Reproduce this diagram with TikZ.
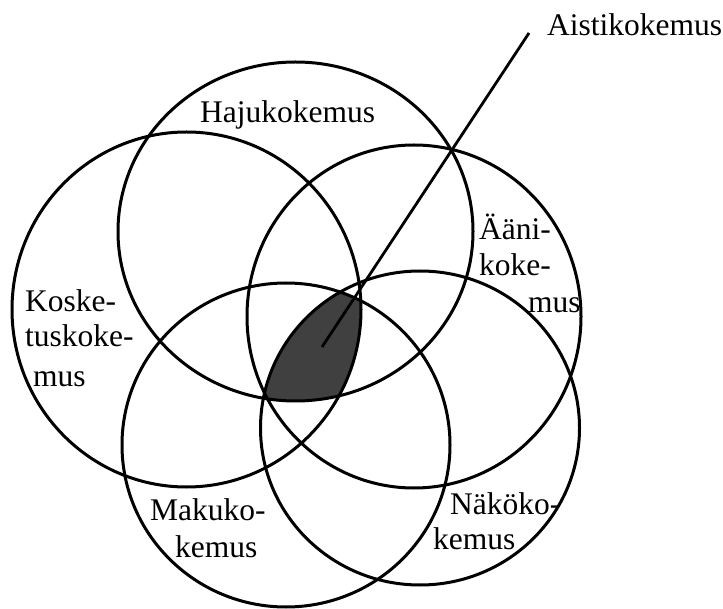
\documentclass[tikz,border=0pt]{standalone}
\usepackage{fontspec}
\setmainfont{Liberation Serif}
\definecolor{coregray}{RGB}{64,64,64}
\begin{document}
\begin{tikzpicture}[x=1pt,y=-1pt,
  ring/.style={draw=black,line width=3pt},
  lbl/.style={inner sep=0pt,anchor=base west,font=\fontsize{31.5}{36}\selectfont},
  leader/.style={draw=black,line width=2.8pt}]
\useasboundingbox (0,0) rectangle (723,609);
% shaded common region
\begin{scope}
  \clip (295.5,231.5) ellipse [x radius=177.5pt, y radius=169.5pt];
  \clip (186.5,309.5) ellipse [x radius=174.5pt, y radius=177.5pt];
  \clip (414,316.5) ellipse [x radius=167pt, y radius=171.5pt];
  \clip (286,445) ellipse [x radius=164pt, y radius=162pt];
  \clip (420,428) ellipse [x radius=159.5pt, y radius=157pt];
  \fill[coregray] (0,0) rectangle (723,609);
\end{scope}
% circles
\draw[ring] (295.5,231.5) ellipse [x radius=177.5pt, y radius=169.5pt]; % Haju
\draw[ring] (186.5,309.5) ellipse [x radius=174.5pt, y radius=177.5pt]; % Koske
\draw[ring] (414,316.5) ellipse [x radius=167pt, y radius=171.5pt];     % Aani
\draw[ring] (286,445) ellipse [x radius=164pt, y radius=162pt];         % Maku
\draw[ring] (420,428) ellipse [x radius=159.5pt, y radius=157pt];       % Nako
% leader line
\coordinate (core) at (322,347);
\coordinate (tip) at (529,33);
\draw[leader] (core) -- (tip);
% labels
\node[lbl] (aisti) at (547,36) {Aistikokemus};
\node[lbl] (haju) at (200,123) {Hajukokemus};
\node[lbl] (koske1) at (25,312) {Koske-};
\node[lbl] (koske2) at (25,347) {tuskoke-};
\node[lbl] (koske3) at (33,387) {mus};
\node[lbl] (aani1) at (479,240) {Ääni-};
\node[lbl] (aani2) at (479,276) {koke-};
\node[lbl] (aani3) at (528,313) {mus};
\node[lbl] (maku1) at (150,520) {Makuko-};
\node[lbl] (maku2) at (175,557) {kemus};
\node[lbl] (nako1) at (450,514) {Näköko-};
\node[lbl] (nako2) at (433,549) {kemus};
\end{tikzpicture}
\end{document}
